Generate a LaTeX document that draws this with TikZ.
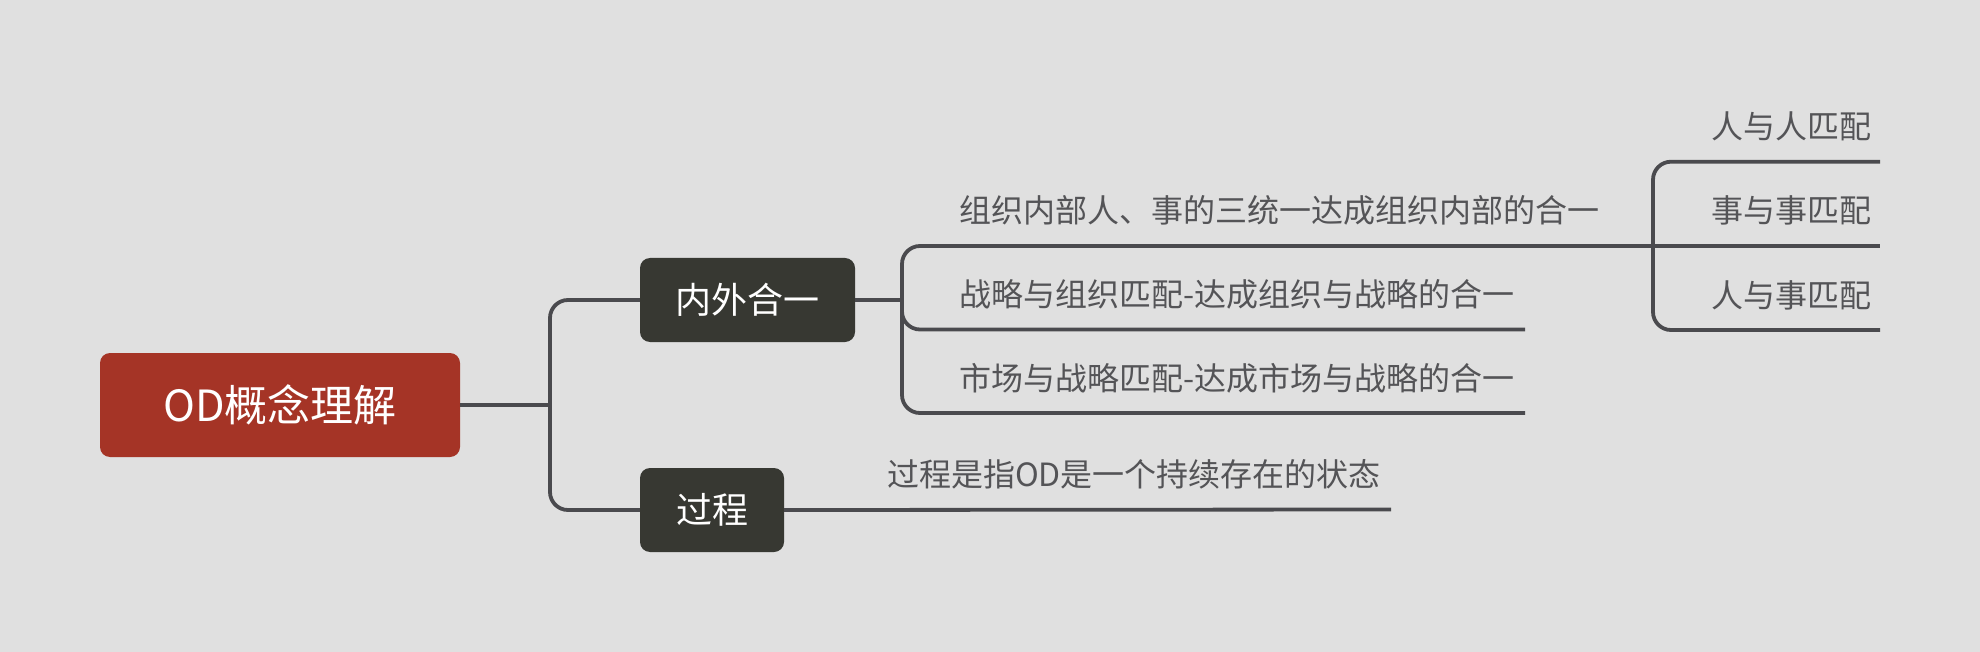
\documentclass[tikz,border=0pt]{standalone}
\usepackage{fontspec}
\setmainfont{Noto Sans CJK SC}
\definecolor{bgc}{HTML}{E0E0E0}
\definecolor{rootc}{HTML}{A53426}
\definecolor{darkc}{HTML}{373832}
\definecolor{linec}{HTML}{4A4A4E}
\definecolor{textc}{HTML}{545457}
\begin{document}
\begin{tikzpicture}[x=1pt,y=-1pt,
  conn/.style={draw=linec, line width=3.8pt, rounded corners=18pt},
  rootbox/.style={fill=rootc, rounded corners=10pt, minimum width=360pt, minimum height=104pt, text=white, font=\fontsize{43}{50}\selectfont, inner sep=0pt},
  mainbox/.style={fill=darkc, rounded corners=10pt, minimum height=84pt, text=white, font=\fontsize{36}{42}\selectfont, inner sep=0pt},
  leaf/.style={anchor=base west, inner sep=0pt, text=textc, font=\fontsize{32}{38}\selectfont}]
\useasboundingbox (0,0) rectangle (1980,652);
\fill[bgc] (0,0) rectangle (1980,652);
% nodes
\node[rootbox] (root) at (280,405) {OD概念理解};
\node[mainbox, minimum width=215pt] (n1) at (747.5,300) {内外合一};
\node[mainbox, minimum width=144pt] (n2) at (712,510) {过程};
\node[leaf] (t1) at (959,223) {组织内部人、事的三统一达成组织内部的合一};
\node[leaf] (t2) at (959,306.5) {战略与组织匹配-达成组织与战略的合一};
\node[leaf] (t3) at (959,390) {市场与战略匹配-达成市场与战略的合一};
\node[leaf] (t4) at (887,486.5) {过程是指OD是一个持续存在的状态};
\node[leaf] (s1) at (1711,138.7) {人与人匹配};
\node[leaf] (s2) at (1711,223) {事与事匹配};
\node[leaf] (s3) at (1711,307) {人与事匹配};
% coordinates
\coordinate (j1) at (550,405);
\coordinate (j2) at (902,300);
\coordinate (j3) at (1653,246);
\coordinate (b2end) at (1525,329.5);
\coordinate (b3end) at (1525,413);
\coordinate (s1end) at (1880,161.7);
\coordinate (s2end) at (1880,246);
\coordinate (s3end) at (1880,330);
\coordinate (pend) at (1391,509.5);
% connectors
\draw[conn] (root.east) -- (j1);
\draw[conn] (j1) |- (n1.west);
\draw[conn] (j1) |- (n2.west);
\draw[conn] (n1.east) -- (j2);
\draw[conn] (j2) |- (j3);
\draw[conn] (j2) |- (b2end);
\draw[conn] (j2) |- (b3end);
\draw[conn] (j3) |- (s1end);
\draw[conn] (j3) -- (s2end);
\draw[conn] (j3) |- (s3end);
\draw[conn] (n2.east) -- (pend);
\end{tikzpicture}
\end{document}
